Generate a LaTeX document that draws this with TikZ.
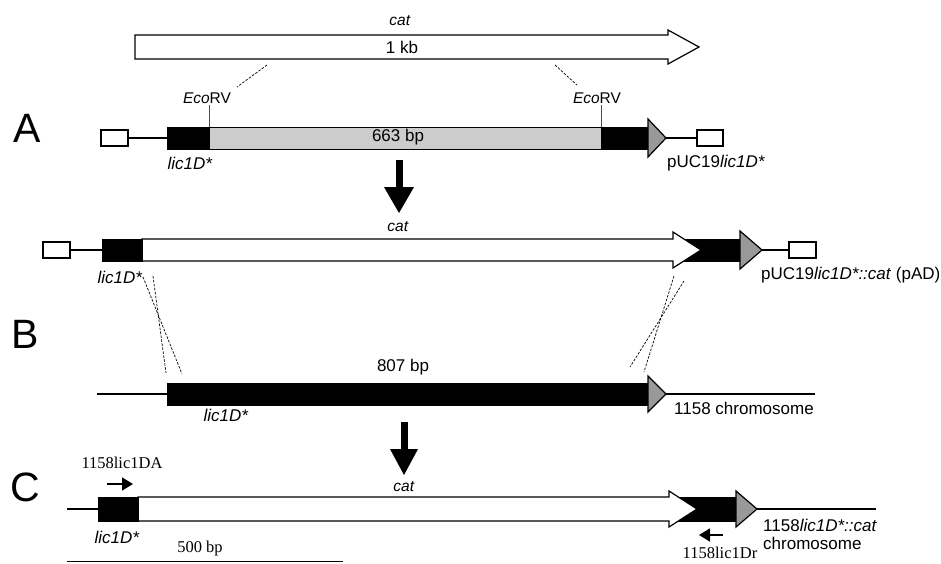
\documentclass[tikz,border=0pt]{standalone}
\usepackage{fontspec}
\setmainfont{Liberation Sans}
\newfontfamily\serifrm{Liberation Serif}
\usetikzlibrary{arrows.meta}

\begin{document}
\begin{tikzpicture}[x=1pt, y=-1pt,
  every node/.style={inner sep=0pt, font=\fontsize{17}{19}\selectfont},
  smalltxt/.style={font=\fontsize{15.5}{17}\selectfont},
  primertxt/.style={font=\serifrm\fontsize{16.5}{18}\selectfont},
  paneltxt/.style={font=\fontsize{41}{44}\selectfont},
  blk/.style={draw=black, fill=black, line width=1pt},
  gry/.style={draw=black, fill=black!40, line width=1.2pt, line join=miter},
  outl/.style={draw=black, fill=white, line width=1.2pt, line join=miter},
  dna/.style={line width=1.2pt},
  cut/.style={black, line width=0.7pt, dash pattern=on 2.5pt off 1.5pt},
  primer/.style={line width=1.5pt, -{Triangle[length=11pt, width=13pt]}},
  bigarr/.style={fill=black}]

  \useasboundingbox (0,0) rectangle (941,563);

  % Panel letters
  \node[paneltxt] (pA) at (27,128) {A};
  \node[paneltxt] (pB) at (25,334) {B};
  \node[paneltxt] (pC) at (25,487) {C};

  % cat cassette (1 kb)
  \draw[outl] (135,35) -- (668,35) -- (668,30) -- (699,47) -- (668,64) -- (668,59) -- (135,59) -- cycle;
  \node[smalltxt] (catTop) at (400,21) {\textit{cat}};
  \node (kb) at (402,47) {1 kb};
  \draw[cut] (267,65) -- (237,87);
  \draw[cut] (555,65) -- (577,85);

  % A: pUC19lic1D*
  \draw[dna] (128,138) -- (167,138);
  \draw[outl] (101,130) rectangle (128,146);
  \draw[blk] (167,127) rectangle (209,149);
  \draw[draw=black, fill=black!20, line width=1pt] (209,127) rectangle (601,149);
  \draw[blk] (601,127) rectangle (648,149);
  \draw[gry] (648,119) -- (666,138) -- (648,157) -- cycle;
  \draw[dna] (666,138) -- (697,138);
  \draw[outl] (697,130) rectangle (723,146);
  \draw[black!70, line width=0.8pt] (209,105) -- (209,127);
  \draw[black!70, line width=0.8pt] (601,105) -- (601,127);
  \node[smalltxt] (ecoL) at (207,98) {\textit{Eco}RV};
  \node[smalltxt] (ecoR) at (597,98) {\textit{Eco}RV};
  \node (bpA) at (398,137) {663 bp};
  \node (licA) at (190,163) {\textit{lic1D*}};
  \node[anchor=west] (plasA) at (667,163) {pUC19\textit{lic1D*}};

  % arrow A -> pAD
  \fill[bigarr] (395.5,160) rectangle (402.5,187);
  \fill[bigarr] (384,187) -- (414,187) -- (399,213) -- cycle;

  % pUC19lic1D*::cat (pAD)
  \draw[dna] (70,250) -- (102,250);
  \draw[outl] (43,242) rectangle (70,258);
  \draw[blk] (673,239) rectangle (740,261);
  \draw[outl] (142,239) -- (673,239) -- (673,232) -- (701,250) -- (673,268) -- (673,261) -- (142,261) -- cycle;
  \draw[blk] (102,239) rectangle (142,261);
  \draw[gry] (740,231) -- (762,250) -- (740,269) -- cycle;
  \draw[dna] (762,250) -- (789,250);
  \draw[outl] (789,242) rectangle (816,258);
  \node[smalltxt] (catAD) at (398,227) {\textit{cat}};
  \node (licAD) at (120,277) {\textit{lic1D*}};
  \node[anchor=west] (plasAD) at (761,275) {pUC19\textit{lic1D*::cat} (pAD)};

  % crossover lines
  \draw[cut] (143,277) -- (182,374);
  \draw[cut] (153,276) -- (166,373);
  \draw[cut] (674,276) -- (644,372);
  \draw[cut] (684,281) -- (630,367);

  % B: 1158 chromosome
  \draw[dna] (97,394) -- (167,394);
  \draw[blk] (167,383) rectangle (648,405);
  \draw[gry] (648,376) -- (666,394) -- (648,412) -- cycle;
  \draw[dna] (666,394) -- (815,394);
  \node (bpB) at (403,367) {807 bp};
  \node (licB) at (226,415) {\textit{lic1D*}};
  \node[anchor=west] (chrB) at (674,408) {1158 chromosome};

  % arrow B -> C
  \fill[bigarr] (400.5,422) rectangle (407.5,449);
  \fill[bigarr] (390,449) -- (418,449) -- (404,475) -- cycle;

  % C: 1158lic1D*::cat chromosome
  \draw[dna] (67,509) -- (98,509);
  \draw[blk] (669,497) rectangle (736,521);
  \draw[outl] (138,497) -- (669,497) -- (669,491) -- (697,509) -- (669,527) -- (669,521) -- (138,521) -- cycle;
  \draw[blk] (98,497) rectangle (138,521);
  \draw[gry] (736,491) -- (757,509) -- (736,527) -- cycle;
  \draw[dna] (757,509) -- (876,509);
  \node[smalltxt] (catC) at (404,487) {\textit{cat}};
  \node (licC) at (117,537) {\textit{lic1D*}};
  \node[anchor=west] (chrC) at (763,525) {1158\textit{lic1D*::cat}};
  \node[anchor=west] (chrC2) at (763,543) {chromosome};

  % primers
  \coordinate (fwdS) at (107,484);
  \coordinate (fwdE) at (133,484);
  \coordinate (revS) at (723,535);
  \coordinate (revE) at (699,535);
  \draw[primer] (fwdS) -- (fwdE);
  \draw[primer] (revS) -- (revE);
  \node[primertxt] (fwdTxt) at (122,463) {1158lic1DA};
  \node[primertxt] (revTxt) at (720,553) {1158lic1Dr};

  % scale bar
  \coordinate (sbL) at (67,561);
  \coordinate (sbR) at (343,561);
  \draw[line width=0.8pt] (sbL) -- (sbR);
  \node[primertxt] (sbTxt) at (200,549) {500 bp};

\end{tikzpicture}
\end{document}
